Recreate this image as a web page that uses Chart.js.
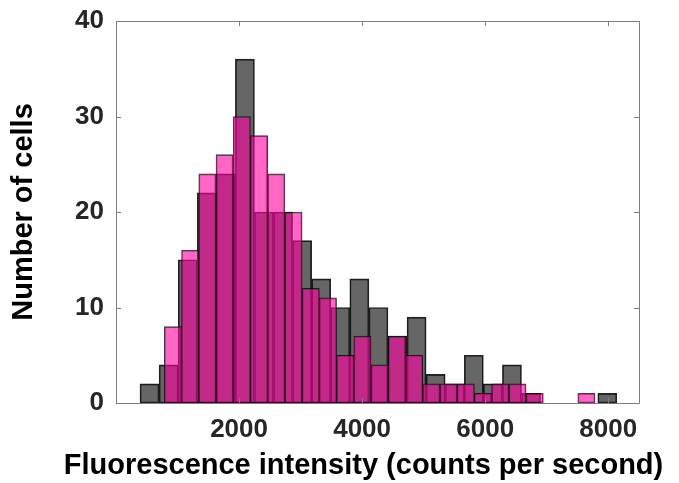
<!DOCTYPE html>
<html>
<head>
<meta charset="utf-8">
<script src="https://cdn.jsdelivr.net/npm/chart.js@4.4.1/dist/chart.umd.min.js"></script>
<style>
  html, body { margin: 0; padding: 0; background: #fff; }
  #wrap { width: 679px; height: 483px; }
</style>
</head>
<body>
<div id="wrap"><canvas id="hist" width="679" height="483"></canvas></div>
<script>
// histogram bins (intensity, counts per second)
const grayBinStart = 390;
const grayBinWidth = 310;
const pinkBinStart = 785;
const pinkBinWidth = 280;

// counts per bin
const grayCounts = [2, 4, 15, 22, 24, 36, 20, 20, 17, 13, 10, 13, 10, 7, 9, 3, 2, 5, 2, 4, 1, 0, 0, 0, 1];
const pinkCounts = [8, 16, 24, 26, 30, 28, 24, 20, 12, 11, 5, 7, 4, 7, 5, 2, 2, 2, 1, 2, 2, 1, 0, 0, 1];

const xTicks = [2000, 4000, 6000, 8000];
const yTicks = [0, 10, 20, 30, 40];
const xRange = [0, 8500];
const yRange = [0, 40];

const xTitle = 'Fluorescence intensity (counts per second)';
const yTitle = 'Number of cells';

const fontFamily = 'Liberation Sans, Arial, sans-serif';

function toPoints(counts, start, width) {
  return counts.map((c, i) => ({ x: start + (i + 0.5) * width, y: c }));
}

// MATLAB-like box with inward ticks, drawn over the bars
const boxPlugin = {
  id: 'box',
  afterDatasetsDraw(chart) {
    const { ctx, chartArea: a, scales } = chart;
    const len = 5;
    ctx.save();
    ctx.strokeStyle = '#7d7d7d';
    ctx.lineWidth = 1;
    ctx.beginPath();
    ctx.rect(Math.round(a.left) + 0.5, Math.round(a.top) + 0.5,
             Math.round(a.right - a.left), Math.round(a.bottom - a.top));
    scales.x.ticks.forEach(t => {
      const px = Math.round(scales.x.getPixelForValue(t.value)) + 0.5;
      ctx.moveTo(px, a.bottom); ctx.lineTo(px, a.bottom - len);
      ctx.moveTo(px, a.top); ctx.lineTo(px, a.top + len);
    });
    scales.y.ticks.forEach(t => {
      const py = Math.round(scales.y.getPixelForValue(t.value)) + 0.5;
      ctx.moveTo(a.left, py); ctx.lineTo(a.left + len, py);
      ctx.moveTo(a.right, py); ctx.lineTo(a.right - len, py);
    });
    ctx.stroke();
    ctx.restore();
  }
};

// x label is wider than the axes, so the axis title would get squeezed
const xLabelPlugin = {
  id: 'xlabel',
  afterDraw(chart) {
    const { ctx, chartArea: a } = chart;
    ctx.save();
    ctx.font = 'bold 29px ' + fontFamily;
    ctx.fillStyle = '#000';
    ctx.textAlign = 'center';
    ctx.textBaseline = 'middle';
    ctx.fillText(xTitle, (a.left + a.right) / 2 - 14, chart.height - 17);
    ctx.restore();
  }
};

const tickFont = { family: fontFamily, size: 26, weight: 'bold' };

new Chart(document.getElementById('hist'), {
  type: 'bar',
  data: {
    datasets: [{
      label: 'gray',
      data: toPoints(grayCounts, grayBinStart, grayBinWidth),
      xAxisID: 'x',
      backgroundColor: 'rgba(0, 0, 0, 0.6)',
      borderColor: 'rgba(0, 0, 0, 0.85)',
      borderWidth: 1,
      borderSkipped: false,
      grouped: false,
      barPercentage: 1,
      categoryPercentage: 1,
      order: 2
    }, {
      label: 'magenta',
      data: toPoints(pinkCounts, pinkBinStart, pinkBinWidth),
      xAxisID: 'x2',
      backgroundColor: 'rgba(255, 0, 160, 0.6)',
      borderColor: 'rgba(0, 0, 0, 0.75)',
      borderWidth: 1,
      borderSkipped: false,
      grouped: false,
      barPercentage: 1,
      categoryPercentage: 1,
      order: 1
    }]
  },
  options: {
    responsive: false,
    devicePixelRatio: 1,
    animation: false,
    layout: { padding: { top: 21, right: 40, bottom: 0, left: 0 } },
    plugins: {
      legend: { display: false },
      tooltip: { enabled: false }
    },
    scales: {
      x: {
        type: 'linear',
        min: xRange[0],
        max: xRange[1],
        offset: false,
        grid: { display: false, drawTicks: false, offset: false },
        border: { display: false },
        afterBuildTicks: s => { s.ticks = xTicks.map(v => ({ value: v })); },
        afterFit: s => { s.height = 80; },
        ticks: {
          color: '#262626',
          font: tickFont,
          padding: 11,
          maxRotation: 0,
          autoSkip: false,
          callback: v => String(v)
        },
        title: { display: false }
      },
      x2: {
        type: 'linear',
        display: false,
        min: xRange[0],
        max: xRange[1],
        offset: false,
        grid: { display: false, offset: false }
      },
      y: {
        min: yRange[0],
        max: yRange[1],
        grid: { display: false, drawTicks: false },
        border: { display: false },
        afterBuildTicks: s => { s.ticks = yTicks.map(v => ({ value: v })); },
        afterFit: s => { s.width = 116; s.paddingTop = 0; s.paddingBottom = 0; },
        ticks: {
          color: '#262626',
          font: tickFont,
          padding: 12,
          callback: v => String(v)
        },
        title: {
          display: true,
          text: yTitle,
          color: '#000',
          font: { family: fontFamily, size: 29, weight: 'bold' },
          padding: { top: 7, bottom: 0 }
        }
      }
    }
  },
  plugins: [boxPlugin, xLabelPlugin]
});
</script>
</body>
</html>
